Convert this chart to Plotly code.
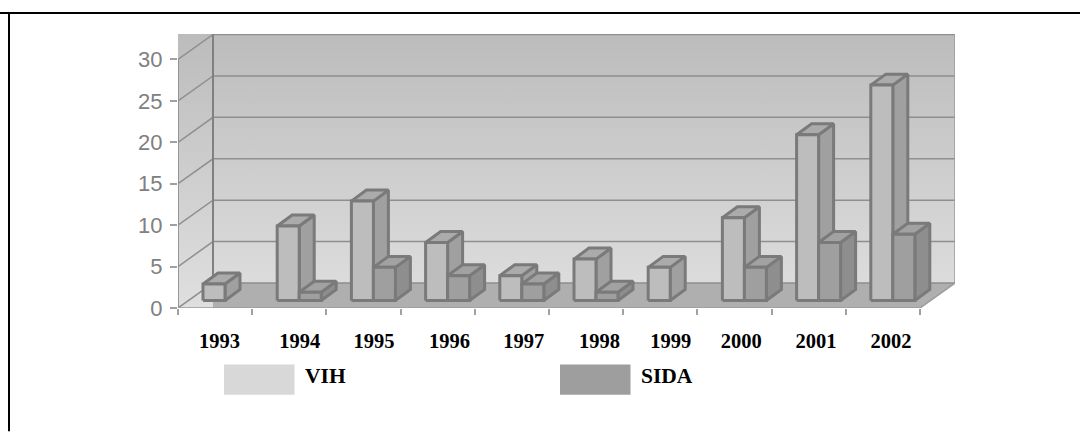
import plotly.graph_objects as go

years = ["1993", "1994", "1995", "1996", "1997", "1998", "1999", "2000", "2001", "2002"]
vih = [2, 9, 12, 7, 3, 5, 4, 10, 20, 26]
sida = [0, 1, 4, 3, 2, 1, 0, 4, 7, 8]
y_ticks = [0, 5, 10, 15, 20, 25, 30]

# layout constants (pixels)
W, H = 1080, 432
L, R, T, B = 178, 955, 34, 308.5
PX_CAT = 74.2
PX_VAL = 8.3
DX = 35 / PX_CAT
DY = 25 / PX_VAL
YMAX = (B - T) / PX_VAL
XMAX = (R - L) / PX_CAT
GAP = 15 / PX_CAT
BAR_W = 22 / PX_CAT
FX, FY = 10 / PX_CAT, 7.5 / PX_VAL
BX, BY = 15 / PX_CAT, 11 / PX_VAL
label_pos = [0.56, 1.64, 2.64, 3.66, 4.66, 5.68, 6.64, 7.59, 8.60, 9.61]

LINE = "#8f8f8f"
EDGE = "#7a7a7a"
fig = go.Figure()


def poly(xs, ys, fill=None, line=None, width=0, gradient=None):
    kw = {}
    if gradient:
        kw["fillgradient"] = gradient
        kw["fill"] = "toself"
    elif fill:
        kw["fillcolor"] = fill
        kw["fill"] = "toself"
    fig.add_trace(go.Scatter(x=xs, y=ys, mode="lines", cliponaxis=False, hoverinfo="skip",
                             showlegend=False,
                             line=dict(color=line or "rgba(0,0,0,0)", width=width), **kw))


# walls with vertical gradient
poly([0, DX, DX, XMAX, XMAX, 0, 0], [0, 0, DY, DY, YMAX, YMAX, 0],
     gradient=dict(type="vertical", colorscale=[[0, "#dfdfdf"], [1, "#bcbcbc"]], start=0, stop=YMAX))
# floor
poly([DX, 10, XMAX, DX, DX], [0, 0, DY, DY, 0], fill="#afafaf")

# grid on walls
for v in y_ticks:
    poly([0, DX, XMAX], [v, v + DY, v + DY], line=LINE, width=1.5)
poly([0, 0], [0, 30], line=LINE, width=1.8)
poly([DX, DX], [DY, 30 + DY], line="#808080", width=2)
poly([XMAX, XMAX], [DY, YMAX], line="#9a9a9a", width=1.5)
poly([0, 10, XMAX], [0, 0, DY], line="#9a9a9a", width=1.5)


def bar3d(x0, v, front, top, side):
    x1 = x0 + BAR_W
    y0, y1 = FY, FY + v
    poly([x1, x1 + BX, x1 + BX, x1, x1], [y0, y0 + BY, y1 + BY, y1, y0], fill=side, line=EDGE, width=3)
    poly([x0, x0 + BX, x1 + BX, x1, x0], [y1, y1 + BY, y1 + BY, y1, y1], fill=top, line=EDGE, width=3)
    poly([x0, x1, x1, x0, x0], [y0, y0, y1, y1, y0], fill=front, line=EDGE, width=3)


for i in range(len(years)):
    x = i + GAP + FX
    if vih[i] > 0:
        bar3d(x, vih[i], "#bdbdbd", "#ababab", "#a0a0a0")
    if sida[i] > 0:
        bar3d(x + BAR_W, sida[i], "#9f9f9f", "#a2a2a2", "#8e8e8e")

shapes = [
    dict(type="line", xref="paper", yref="paper", x0=-L / (R - L), x1=(W - L) / (R - L),
         y0=(B - 13) / (B - T), y1=(B - 13) / (B - T), line=dict(color="black", width=2)),
    dict(type="line", xref="paper", yref="paper", x0=(9 - L) / (R - L), x1=(9 - L) / (R - L),
         y0=-(H - B) / (B - T), y1=(B - 12) / (B - T), line=dict(color="black", width=2)),
]


def px_x(p):
    return (p - L) / (R - L)


def px_y(p):
    return (B - p) / (B - T)


annotations = []
for name, color, sx in (("VIH", "#d8d8d8", 224), ("SIDA", "#9e9e9e", 560)):
    shapes.append(dict(type="rect", xref="paper", yref="paper", x0=px_x(sx), x1=px_x(sx + 70.5),
                       y0=px_y(395.5), y1=px_y(365), fillcolor=color, line_width=0))
    annotations.append(dict(xref="paper", yref="paper", x=px_x(sx + 78.5), y=px_y(376.5), text="<b>%s</b>" % name,
                            showarrow=False, xanchor="left", yanchor="middle",
                            font=dict(family="Liberation Serif", size=21.5, color="black")))

fig.update_layout(
    width=W, height=H, autosize=False,
    margin=dict(l=L, r=W - R, t=T, b=H - B, pad=0),
    paper_bgcolor="white", plot_bgcolor="white", showlegend=False,
    shapes=shapes, annotations=annotations,
    xaxis=dict(range=[0, XMAX], showgrid=False, zeroline=False, showline=False, ticks="",
               tickmode="array", tickvals=label_pos, ticktext=years, ticklabelstandoff=18,
               tickfont=dict(family="Liberation Serif", size=20.5, color="black", weight="bold"),
               minor=dict(tickmode="array", tickvals=list(range(11)), ticks="outside", ticklen=6,
                          tickwidth=1.5, tickcolor="#a0a0a0", showgrid=False)),
    yaxis=dict(range=[0, YMAX], showgrid=False, zeroline=False, showline=False, ticks="outside",
               ticklen=7, tickwidth=1.5, tickcolor="#a0a0a0", tickmode="array", tickvals=y_ticks,
               ticklabelstandoff=3,
               tickfont=dict(family="Liberation Sans", size=22, color="#808080")),
)

fig.write_html("out.html", config={"displayModeBar": False},
               post_script="document.body.style.margin='0';")
